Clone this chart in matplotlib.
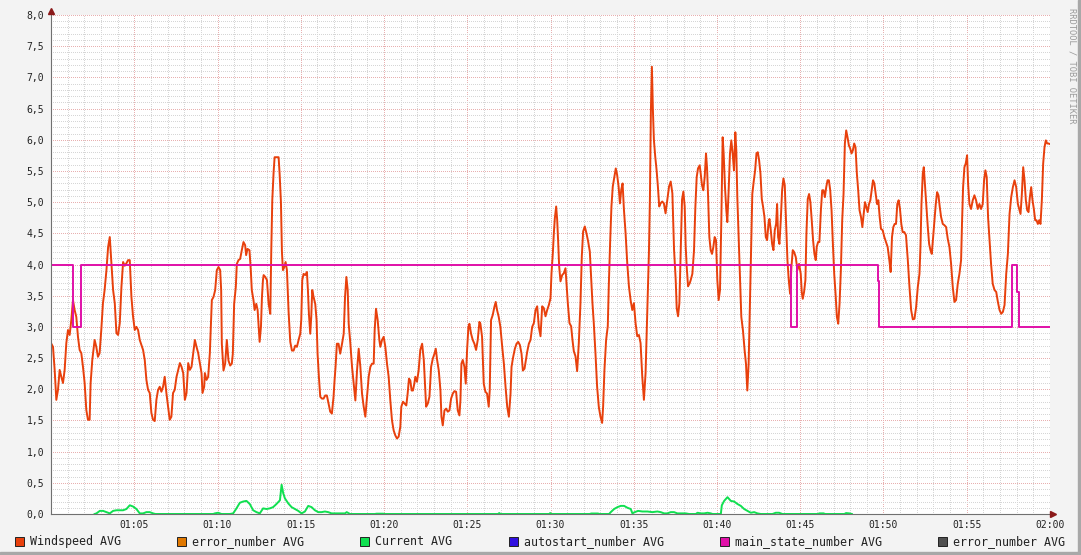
import numpy as np
import matplotlib
matplotlib.use("Agg")
import matplotlib.pyplot as plt
from matplotlib.patches import Rectangle
from matplotlib.ticker import MultipleLocator, FuncFormatter

# minutes after 01:00 and windspeed values
wind_t = [0.0, 0.12, 0.22, 0.32, 0.42, 0.52, 0.62, 0.72, 0.82, 0.92,
          1.02, 1.12, 1.22, 1.32, 1.42, 1.52, 1.62, 1.72, 1.82, 1.92,
          2.02, 2.12, 2.22, 2.32, 2.38, 2.48, 2.62, 2.72, 2.82, 2.92,
          3.02, 3.12, 3.22, 3.33, 3.43, 3.53, 3.63, 3.73, 3.83, 3.93,
          4.03, 4.13, 4.23, 4.33, 4.43, 4.53, 4.63, 4.73, 4.83, 4.93,
          5.03, 5.13, 5.23, 5.33, 5.53, 5.63, 5.73, 5.83, 5.93,
          6.03, 6.13, 6.23, 6.33, 6.43, 6.53, 6.63, 6.73, 6.83, 6.93,
          7.03, 7.13, 7.23, 7.33, 7.43, 7.54, 7.64, 7.74, 7.84, 7.94,
          8.04, 8.14, 8.24, 8.34, 8.44, 8.54, 8.64, 8.74, 8.84, 8.94,
          9.04, 9.1, 9.2, 9.24, 9.34, 9.44, 9.54,
          9.66, 9.76, 9.86, 9.96, 10.06, 10.16, 10.22, 10.26, 10.36, 10.46,
          10.56, 10.66, 10.76, 10.86, 10.92, 11.0, 11.1, 11.16, 11.26, 11.36,
          11.46, 11.56, 11.66, 11.72, 11.8, 11.92, 12.0, 12.06, 12.16, 12.23,
          12.33, 12.41, 12.47, 12.53, 12.61, 12.67, 12.73, 12.77, 12.87, 12.97,
          13.07, 13.17, 13.23, 13.29, 13.37, 13.43, 13.57, 13.67, 13.73, 13.81,
          13.87, 13.93, 14.01, 14.09, 14.17, 14.27, 14.37, 14.47, 14.57, 14.67,
          14.77, 14.87, 14.97, 15.03, 15.09, 15.17, 15.27, 15.37, 15.43, 15.49,
          15.57, 15.63, 15.69, 15.77, 15.87, 15.95, 16.01, 16.09, 16.17, 16.27,
          16.37, 16.47, 16.57, 16.67, 16.77, 16.87, 16.97, 17.03, 17.09, 17.17,
          17.27, 17.37, 17.48, 17.58, 17.66, 17.74, 17.82, 17.88, 17.98, 18.08,
          18.18, 18.28, 18.38, 18.48, 18.58, 18.68, 18.78, 18.88, 18.98, 19.08,
          19.18, 19.28, 19.38,
          19.44, 19.52, 19.62, 19.72, 19.78, 19.88, 19.98, 20.08, 20.18, 20.28,
          20.38, 20.48, 20.58, 20.68, 20.78, 20.88, 20.98, 21.04, 21.14, 21.24,
          21.34, 21.42, 21.5, 21.58, 21.66, 21.74, 21.82, 21.88, 21.98, 22.08,
          22.18, 22.29, 22.39, 22.45, 22.53, 22.63, 22.73, 22.83, 22.93, 23.03,
          23.11, 23.19, 23.29, 23.39, 23.45, 23.53, 23.63, 23.73, 23.83, 23.93,
          24.03, 24.13, 24.23, 24.33, 24.43, 24.53, 24.59, 24.65, 24.73, 24.83,
          24.91, 24.99, 25.07, 25.13, 25.23, 25.33, 25.43, 25.53, 25.63, 25.73,
          25.79, 25.89, 25.99, 26.09, 26.19, 26.29, 26.35, 26.43, 26.53, 26.63,
          26.71, 26.79, 26.89, 26.99, 27.1, 27.2, 27.3, 27.4, 27.5, 27.6,
          27.66, 27.76, 27.86, 27.96, 28.06, 28.16, 28.26, 28.34, 28.44, 28.52,
          28.6, 28.7,
          28.8, 28.9, 29.0, 29.1, 29.2, 29.3, 29.4, 29.5, 29.6, 29.7,
          29.8, 29.9, 30.0, 30.06, 30.14, 30.2, 30.26, 30.34, 30.4, 30.46,
          30.52, 30.6, 30.7, 30.8, 30.9, 30.96, 31.04, 31.14, 31.24, 31.32,
          31.4, 31.5, 31.6, 31.7, 31.8, 31.88, 31.96, 32.06, 32.16, 32.26,
          32.36, 32.44, 32.52, 32.6, 32.7, 32.8, 32.9, 33.0, 33.1, 33.16,
          33.24, 33.34, 33.44, 33.5, 33.58, 33.66, 33.74, 33.84, 33.92, 34.0,
          34.09, 34.17, 34.25, 34.33, 34.41, 34.51, 34.61, 34.71, 34.81, 34.91,
          35.01, 35.11, 35.21, 35.31, 35.41, 35.51, 35.61, 35.71, 35.81, 35.91,
          35.97, 36.03, 36.09, 36.15, 36.21, 36.29, 36.37, 36.45, 36.53, 36.61,
          36.71, 36.81, 36.91, 37.02, 37.12, 37.22, 37.32, 37.42, 37.52, 37.58,
          37.66, 37.74, 37.82, 37.9, 37.98, 38.06, 38.12, 38.18, 38.26, 38.36,
          38.42, 38.52, 38.62, 38.7, 38.78, 38.86, 38.96, 39.02, 39.1, 39.18,
          39.26, 39.34, 39.4, 39.46, 39.54, 39.62, 39.7, 39.78, 39.86, 39.94,
          40.02, 40.1, 40.18, 40.26, 40.34, 40.4, 40.48, 40.56, 40.62, 40.7,
          40.78, 40.86, 40.94, 41.02, 41.1, 41.16, 41.22, 41.3, 41.38, 41.46,
          41.56, 41.66, 41.74, 41.82, 41.9, 41.98, 42.04, 42.12, 42.2, 42.29,
          42.37, 42.45, 42.53, 42.61, 42.69, 42.77, 42.85, 42.93, 43.01, 43.09,
          43.15, 43.23, 43.31, 43.39, 43.47, 43.55, 43.61, 43.67, 43.75, 43.83,
          43.91, 43.99, 44.07, 44.15, 44.23, 44.31, 44.39, 44.47, 44.55, 44.63,
          44.73, 44.83, 44.93, 45.03, 45.09, 45.15, 45.23, 45.31, 45.37, 45.45,
          45.53, 45.61, 45.69, 45.77, 45.85, 45.93, 45.99, 46.07, 46.15, 46.24,
          46.32, 46.4, 46.48, 46.56, 46.64, 46.72, 46.8, 46.88, 46.96, 47.04,
          47.12, 47.2, 47.28, 47.36, 47.44, 47.52, 47.6, 47.68, 47.76, 47.84,
          47.92, 48.0, 48.08, 48.16, 48.24, 48.32, 48.4, 48.48, 48.56,
          48.65, 48.73, 48.81, 48.89, 48.97, 49.05, 49.13, 49.21, 49.29, 49.37,
          49.45, 49.53, 49.61, 49.69, 49.77, 49.85, 49.95, 50.05, 50.15, 50.25,
          50.35, 50.43, 50.51, 50.59, 50.67, 50.75, 50.83, 50.91, 50.99, 51.07,
          51.15, 51.25, 51.35, 51.46, 51.56, 51.66, 51.76, 51.86, 51.96, 52.06,
          52.16, 52.22, 52.28, 52.36, 52.42, 52.5, 52.58, 52.66, 52.74, 52.82,
          52.9, 52.98, 53.06, 53.14, 53.22, 53.3, 53.38, 53.46, 53.56, 53.66,
          53.76, 53.86, 53.96, 54.06, 54.16, 54.26, 54.36, 54.46, 54.56, 54.66,
          54.72, 54.78, 54.86, 54.94, 55.02, 55.08, 55.16, 55.26, 55.36, 55.46,
          55.56, 55.66, 55.76, 55.86, 55.96, 56.04, 56.12, 56.2, 56.28, 56.38,
          56.46, 56.56, 56.67, 56.77, 56.87, 56.97, 57.07, 57.17, 57.27, 57.37,
          57.47, 57.57, 57.67, 57.77, 57.87, 57.97, 58.07, 58.17, 58.23, 58.31,
          58.39, 58.47, 58.55, 58.63, 58.71, 58.79, 58.87, 58.95, 59.03, 59.11,
          59.19, 59.27, 59.35, 59.43, 59.51, 59.59, 59.67, 59.75, 59.83, 59.91,
          60.0]

wind_v = [2.74, 2.68, 2.31, 1.83, 1.99, 2.31, 2.2, 2.1, 2.31, 2.74,
          2.95, 2.87, 3.11, 3.43, 3.27, 3.16, 2.84, 2.63, 2.58, 2.36,
          2.1, 1.67, 1.51, 1.51, 2.1, 2.47, 2.79, 2.68, 2.52, 2.58,
          2.95, 3.38, 3.59, 3.91, 4.28, 4.44, 4.02, 3.59, 3.38, 2.9,
          2.87, 3.06, 3.64, 4.04, 3.98, 4.02, 4.07, 4.07, 3.48, 3.16,
          2.95, 3.0, 2.95, 2.79, 2.63, 2.47, 2.15, 1.99, 1.94,
          1.62, 1.51, 1.49, 1.83, 1.99, 2.04, 1.96, 2.04, 2.2, 1.94,
          1.72, 1.51, 1.56, 1.94, 1.99, 2.2, 2.31, 2.42, 2.36, 2.26,
          1.83, 1.94, 2.42, 2.31, 2.36, 2.58, 2.79, 2.68, 2.58, 2.42,
          2.26, 1.94, 2.04, 2.26, 2.15, 2.2, 2.58,
          3.43, 3.48, 3.59, 3.91, 3.96, 3.91, 3.59, 2.73, 2.3, 2.41,
          2.79, 2.46, 2.38, 2.41, 2.57, 3.37, 3.64, 4.01, 4.07, 4.09,
          4.23, 4.36, 4.31, 4.15, 4.25, 4.23, 3.91, 3.59, 3.43, 3.27,
          3.37, 3.27, 3.0, 2.76, 3.0, 3.48, 3.75, 3.83, 3.8, 3.75,
          3.37, 3.21, 4.23, 5.03, 5.48, 5.72, 5.72, 5.72, 5.46, 5.0,
          4.2, 3.91, 3.96, 4.04, 3.91, 3.24, 2.76, 2.62, 2.62, 2.7,
          2.68, 2.79, 2.89, 3.11, 3.75, 3.85, 3.83, 3.88, 3.59, 3.21,
          2.89, 3.16, 3.59, 3.48, 3.37, 3.11, 2.57, 2.2, 1.88, 1.85,
          1.85, 1.9, 1.9, 1.77, 1.64, 1.61, 1.88, 2.14, 2.36, 2.73,
          2.73, 2.57, 2.73, 2.89, 3.48, 3.8, 3.59, 3.05, 2.73, 2.36,
          2.09, 1.82, 2.3, 2.65, 2.36, 1.93, 1.72, 1.56, 1.88, 2.2,
          2.36, 2.41, 2.41,
          2.95, 3.29, 3.11, 2.79, 2.68, 2.79, 2.84, 2.68, 2.41, 2.2,
          1.82, 1.5, 1.34, 1.26, 1.21, 1.24, 1.4, 1.72, 1.8, 1.77,
          1.74, 1.93, 2.17, 2.14, 1.98, 1.98, 2.09, 2.2, 2.12, 2.3,
          2.63, 2.73, 2.47, 2.14, 1.72, 1.77, 1.88, 2.36, 2.49, 2.57,
          2.65, 2.47, 2.3, 1.98, 1.56, 1.42, 1.66, 1.69, 1.64, 1.66,
          1.85, 1.93, 1.97, 1.96, 1.66, 1.58, 1.82, 2.41, 2.47, 2.36,
          2.09, 2.63, 3.0, 3.05, 2.89, 2.79, 2.73, 2.63, 2.79, 3.08,
          3.05, 2.84, 2.09, 1.96, 1.93, 1.72, 1.98, 3.11, 3.19, 3.32,
          3.4, 3.27, 3.16, 3.0, 2.68, 2.41, 2.04, 1.72, 1.56, 1.93,
          2.36, 2.52, 2.65, 2.73, 2.76, 2.71, 2.57, 2.3, 2.33, 2.47,
          2.6, 2.73,
          2.79, 3.0, 3.06, 3.27, 3.33, 3.0, 2.85, 3.33, 3.3, 3.17,
          3.27, 3.35, 3.46, 3.86, 4.18, 4.5, 4.74, 4.93, 4.72, 4.37,
          3.97, 3.73, 3.83, 3.86, 3.94, 3.7, 3.38, 3.06, 3.01, 2.79,
          2.61, 2.53, 2.29, 2.74, 3.38, 4.13, 4.53, 4.61, 4.5, 4.37,
          4.21, 3.81, 3.38, 3.06, 2.58, 2.04, 1.72, 1.56, 1.46, 1.72,
          2.31, 2.79, 3.01, 3.65, 4.34, 4.93, 5.25, 5.41, 5.54, 5.44,
          5.25, 4.98, 5.2, 5.3, 4.88, 4.5, 4.02, 3.65, 3.43, 3.27,
          3.38, 3.06, 2.85, 2.87, 2.74, 2.21, 1.83, 2.26, 3.22, 4.18,
          5.04, 6.48, 7.17, 6.48, 6.0, 5.73, 5.52, 5.25, 4.93, 4.98,
          5.01, 4.98, 4.82, 5.04, 5.25, 5.33, 5.14, 4.24, 3.75, 3.3,
          3.17, 3.38, 4.24, 5.04, 5.17, 4.93, 4.29, 3.97, 3.65, 3.7,
          3.75, 3.85, 4.23, 4.92, 5.4, 5.54, 5.59, 5.46, 5.27, 5.19,
          5.4, 5.78, 5.56, 5.13, 4.44, 4.23, 4.17, 4.28, 4.44, 4.39,
          3.75, 3.43, 3.59, 4.71, 6.04, 5.78, 5.24, 4.87, 4.68, 5.19,
          5.78, 5.99, 5.78, 5.51, 6.12, 5.83, 5.08, 4.44, 3.85, 3.16,
          2.94, 2.62, 2.41, 1.98, 2.41, 3.37, 4.17, 5.13, 5.32, 5.51,
          5.78, 5.8, 5.67, 5.46, 5.05, 4.92, 4.76, 4.44, 4.39, 4.65,
          4.73, 4.55, 4.33, 4.23, 4.55, 4.65, 4.97, 4.44, 4.33, 4.71,
          5.19, 5.38, 5.27, 4.65, 4.07, 3.75, 3.53, 3.96, 4.23, 4.2,
          4.12, 3.91, 4.01, 3.85, 3.56, 3.45, 3.56, 3.75, 4.49, 5.05,
          5.13, 5.0, 4.71, 4.39, 4.17, 4.07, 4.28, 4.36, 4.36, 4.87,
          5.19, 5.19, 5.08, 5.24, 5.35, 5.35, 5.19, 4.87, 4.33, 3.85,
          3.53, 3.16, 3.05, 3.37, 3.91, 4.71, 5.13, 5.94, 6.15, 6.04,
          5.91, 5.86, 5.78, 5.83, 5.94, 5.88, 5.46, 5.19, 4.87,
          4.76, 4.6, 4.81, 5.0, 4.92, 4.84, 4.97, 5.03, 5.19, 5.35,
          5.3, 5.13, 4.97, 5.03, 4.76, 4.57, 4.55, 4.44, 4.36, 4.28,
          4.07, 3.88, 4.44, 4.6, 4.65, 4.65, 4.97, 5.03, 4.89, 4.65,
          4.52, 4.52, 4.47, 4.07, 3.64, 3.27, 3.12, 3.13, 3.32, 3.64,
          3.85, 4.28, 4.97, 5.46, 5.56, 5.24, 4.92, 4.6, 4.33, 4.23,
          4.17, 4.44, 4.71, 4.97, 5.16, 5.11, 4.92, 4.76, 4.65, 4.63,
          4.6, 4.41, 4.28, 4.01, 3.64, 3.4, 3.43, 3.69, 3.85, 4.07,
          4.71, 5.24, 5.56, 5.62, 5.75, 5.3, 4.97, 4.89, 5.03, 5.11,
          5.03, 4.89, 4.97, 4.89, 4.97, 5.35, 5.51, 5.4, 4.76, 4.33,
          4.01, 3.69, 3.59, 3.56, 3.4, 3.27, 3.21, 3.24, 3.35, 3.85,
          4.17, 4.81, 5.08, 5.24, 5.35, 5.24, 4.97, 4.87, 4.81, 5.13,
          5.56, 5.35, 5.03, 4.87, 4.84, 5.08, 5.24, 5.03, 4.89, 4.71,
          4.71, 4.65, 4.71, 4.65, 5.03, 5.62, 5.88, 5.99, 5.94, 5.94,
          5.93]

cur_t = [0, 2.62, 2.73, 2.93, 3.13, 3.33, 3.53, 3.73, 3.93, 4.13, 4.33, 4.53,
         4.73, 4.93, 5.13, 5.33, 5.53, 5.73, 5.93, 6.13, 6.27,
         9.74, 9.84, 10.04, 10.24, 10.74, 10.94, 11.14, 11.34, 11.54, 11.74,
         11.94, 12.14, 12.34, 12.54, 12.74, 12.94, 13.14, 13.34, 13.54, 13.75,
         13.85, 13.95, 14.05, 14.25, 14.45, 14.65, 14.85, 15.05, 15.25, 15.45,
         15.65, 15.85, 16.05, 16.25, 16.45, 16.65, 16.85, 17.06, 17.26, 17.46,
         17.66, 17.76, 17.96,
         19.45, 19.55, 19.95, 20.05, 26.85, 26.92, 27.0, 29.93, 29.98, 30.05,
         32.35, 32.45, 32.85, 32.95,
         33.52, 33.62, 33.82, 34.02, 34.22, 34.42, 34.62, 34.82, 34.92, 35.06,
         35.26, 35.52, 35.82, 36.12, 36.42, 36.62, 36.82, 37.02, 37.22, 37.42,
         37.62, 37.82, 38.12, 38.33,
         38.73, 38.83, 39.03, 39.23, 39.43, 39.63, 39.73,
         40.23, 40.29, 40.43, 40.63, 40.83, 41.03, 41.23, 41.43, 41.63, 41.83,
         42.03, 42.23, 42.43, 42.63,
         43.33, 43.53, 43.73, 43.93, 46.05, 46.15, 46.4, 46.5, 47.65, 47.75,
         47.95, 48.1, 60]
cur_v = [0, 0, 0.01, 0.05, 0.05, 0.03, 0.01, 0.05, 0.06, 0.06, 0.06, 0.08,
         0.14, 0.12, 0.08, 0.01, 0.01, 0.03, 0.03, 0.01, 0,
         0, 0.01, 0.02, 0, 0, 0.01, 0.09, 0.18, 0.2, 0.21,
         0.16, 0.06, 0.03, 0.01, 0.09, 0.08, 0.09, 0.11, 0.16, 0.22,
         0.47, 0.33, 0.25, 0.17, 0.11, 0.08, 0.05, 0.01, 0.04, 0.13,
         0.11, 0.06, 0.03, 0.03, 0.04, 0.03, 0.01, 0.01, 0.01, 0.01,
         0.01, 0.03, 0,
         0, 0.005, 0.005, 0, 0, 0.015, 0, 0, 0.015, 0,
         0, 0.008, 0.008, 0,
         0, 0.03, 0.08, 0.11, 0.13, 0.13, 0.1, 0.08, 0.01, 0.03,
         0.05, 0.04, 0.04, 0.03, 0.04, 0.03, 0.01, 0.01, 0.03, 0.03,
         0.01, 0.01, 0.01, 0,
         0, 0.02, 0.01, 0.01, 0.02, 0.01, 0,
         0, 0.14, 0.21, 0.27, 0.21, 0.2, 0.16, 0.13, 0.08, 0.05,
         0.02, 0.03, 0.01, 0,
         0, 0.02, 0.02, 0, 0, 0.01, 0.01, 0, 0, 0.015,
         0.01, 0, 0]

state_t = [0, 1.32, 1.79, 44.44, 44.8, 49.65, 49.75, 57.71, 58.03, 58.11, 60]
state_v = [4, 3, 4, 3, 4, 3.74, 3, 4, 3.56, 3, 3]

legend_labels = ["Windspeed AVG", "error_number AVG", "Current AVG",
                 "autostart_number AVG", "main_state_number AVG", "error_number AVG"]
legend_colors = ["#e8400c", "#e07800", "#10e050", "#3010e0", "#e010a8", "#505050"]

assert len(wind_t) == len(wind_v)
assert len(cur_t) == len(cur_v)

W, H = 1081, 555
fig = plt.figure(figsize=(W / 100, H / 100), dpi=100)
fig.patch.set_facecolor("#f3f3f3")

# rrdtool style shade at the bottom and right edge
fig.patches.append(Rectangle((0, 0), 1, 3 / H, transform=fig.transFigure, color="#a8a8a8", zorder=0))
fig.patches.append(Rectangle((1 - 3 / W, 0), 3 / W, 1, transform=fig.transFigure, color="#a8a8a8", zorder=0))

ax = fig.add_axes([51 / W, 1 - 514 / H, 999 / W, 499 / H])
ax.set_facecolor("white")
ax.set_xlim(0, 60)
ax.set_ylim(0, 8)

ax.xaxis.set_major_locator(MultipleLocator(5))
ax.xaxis.set_minor_locator(MultipleLocator(1))
ax.yaxis.set_major_locator(MultipleLocator(0.5))
ax.yaxis.set_minor_locator(MultipleLocator(0.1))
ax.grid(which="minor", color="#d6d6d6", linestyle=(0, (1, 2)), linewidth=0.72, antialiased=False)
ax.grid(which="major", color="#e8b0b0", linestyle=(0, (1, 2)), linewidth=0.72, antialiased=False)
ax.set_axisbelow(True)


def fmt_time(x, pos):
    m = int(round(x))
    if m == 0:
        return ""
    return "%02d:%02d" % (1 + m // 60, m % 60)


ax.xaxis.set_major_formatter(FuncFormatter(fmt_time))
ax.yaxis.set_major_formatter(FuncFormatter(lambda v, p: ("%.1f" % v).replace(".", ",")))
ax.tick_params(which="both", length=0, labelsize=7, labelcolor="#222222")
ax.tick_params(axis="x", pad=4)
ax.tick_params(axis="y", pad=5)
for lab in ax.get_xticklabels() + ax.get_yticklabels():
    lab.set_family("DejaVu Sans Mono")

for s in ["top", "right"]:
    ax.spines[s].set_visible(False)
for s in ["left", "bottom"]:
    ax.spines[s].set_color("#707070")
    ax.spines[s].set_linewidth(0.8)
    ax.spines[s].set_zorder(5)

ax.plot(wind_t, wind_v, color=legend_colors[0], lw=1.4, zorder=3)

c = np.array(cur_v, dtype=float)
keep = (c > 0) | (np.roll(c, 1) > 0) | (np.roll(c, -1) > 0)
c[~keep] = np.nan
ax.plot(cur_t, c, color=legend_colors[2], lw=1.4, zorder=3)

ax.plot(state_t, state_v, color=legend_colors[4], lw=1.4, drawstyle="steps-post", zorder=4)

# axis arrows
ax.plot([0], [8.07], marker="^", color="#8b1a1a", ms=4, clip_on=False, zorder=6)
ax.plot([60.2], [0], marker=">", color="#8b1a1a", ms=4, clip_on=False, zorder=6)

# legend row
box_x = [15, 177, 360, 509, 720, 938]
for lx, lab, col in zip(box_x, legend_labels, legend_colors):
    fig.patches.append(Rectangle((lx / W, 1 - 546 / H), 9 / W, 9 / H, transform=fig.transFigure,
                                 facecolor=col, edgecolor="#222222", lw=0.7))
    fig.text((lx + 15) / W, 1 - 541.5 / H, lab, fontsize=8.4, family="DejaVu Sans Mono",
             color="#222222", va="center", ha="left")

fig.text(1072 / W, 1 - 8 / H, "RRDTOOL / TOBI OETIKER", rotation=270, fontsize=6.3,
         family="DejaVu Sans Mono", color="#9a9a9a", ha="center", va="top")

fig.savefig("out.png", dpi=100, facecolor=fig.get_facecolor())
